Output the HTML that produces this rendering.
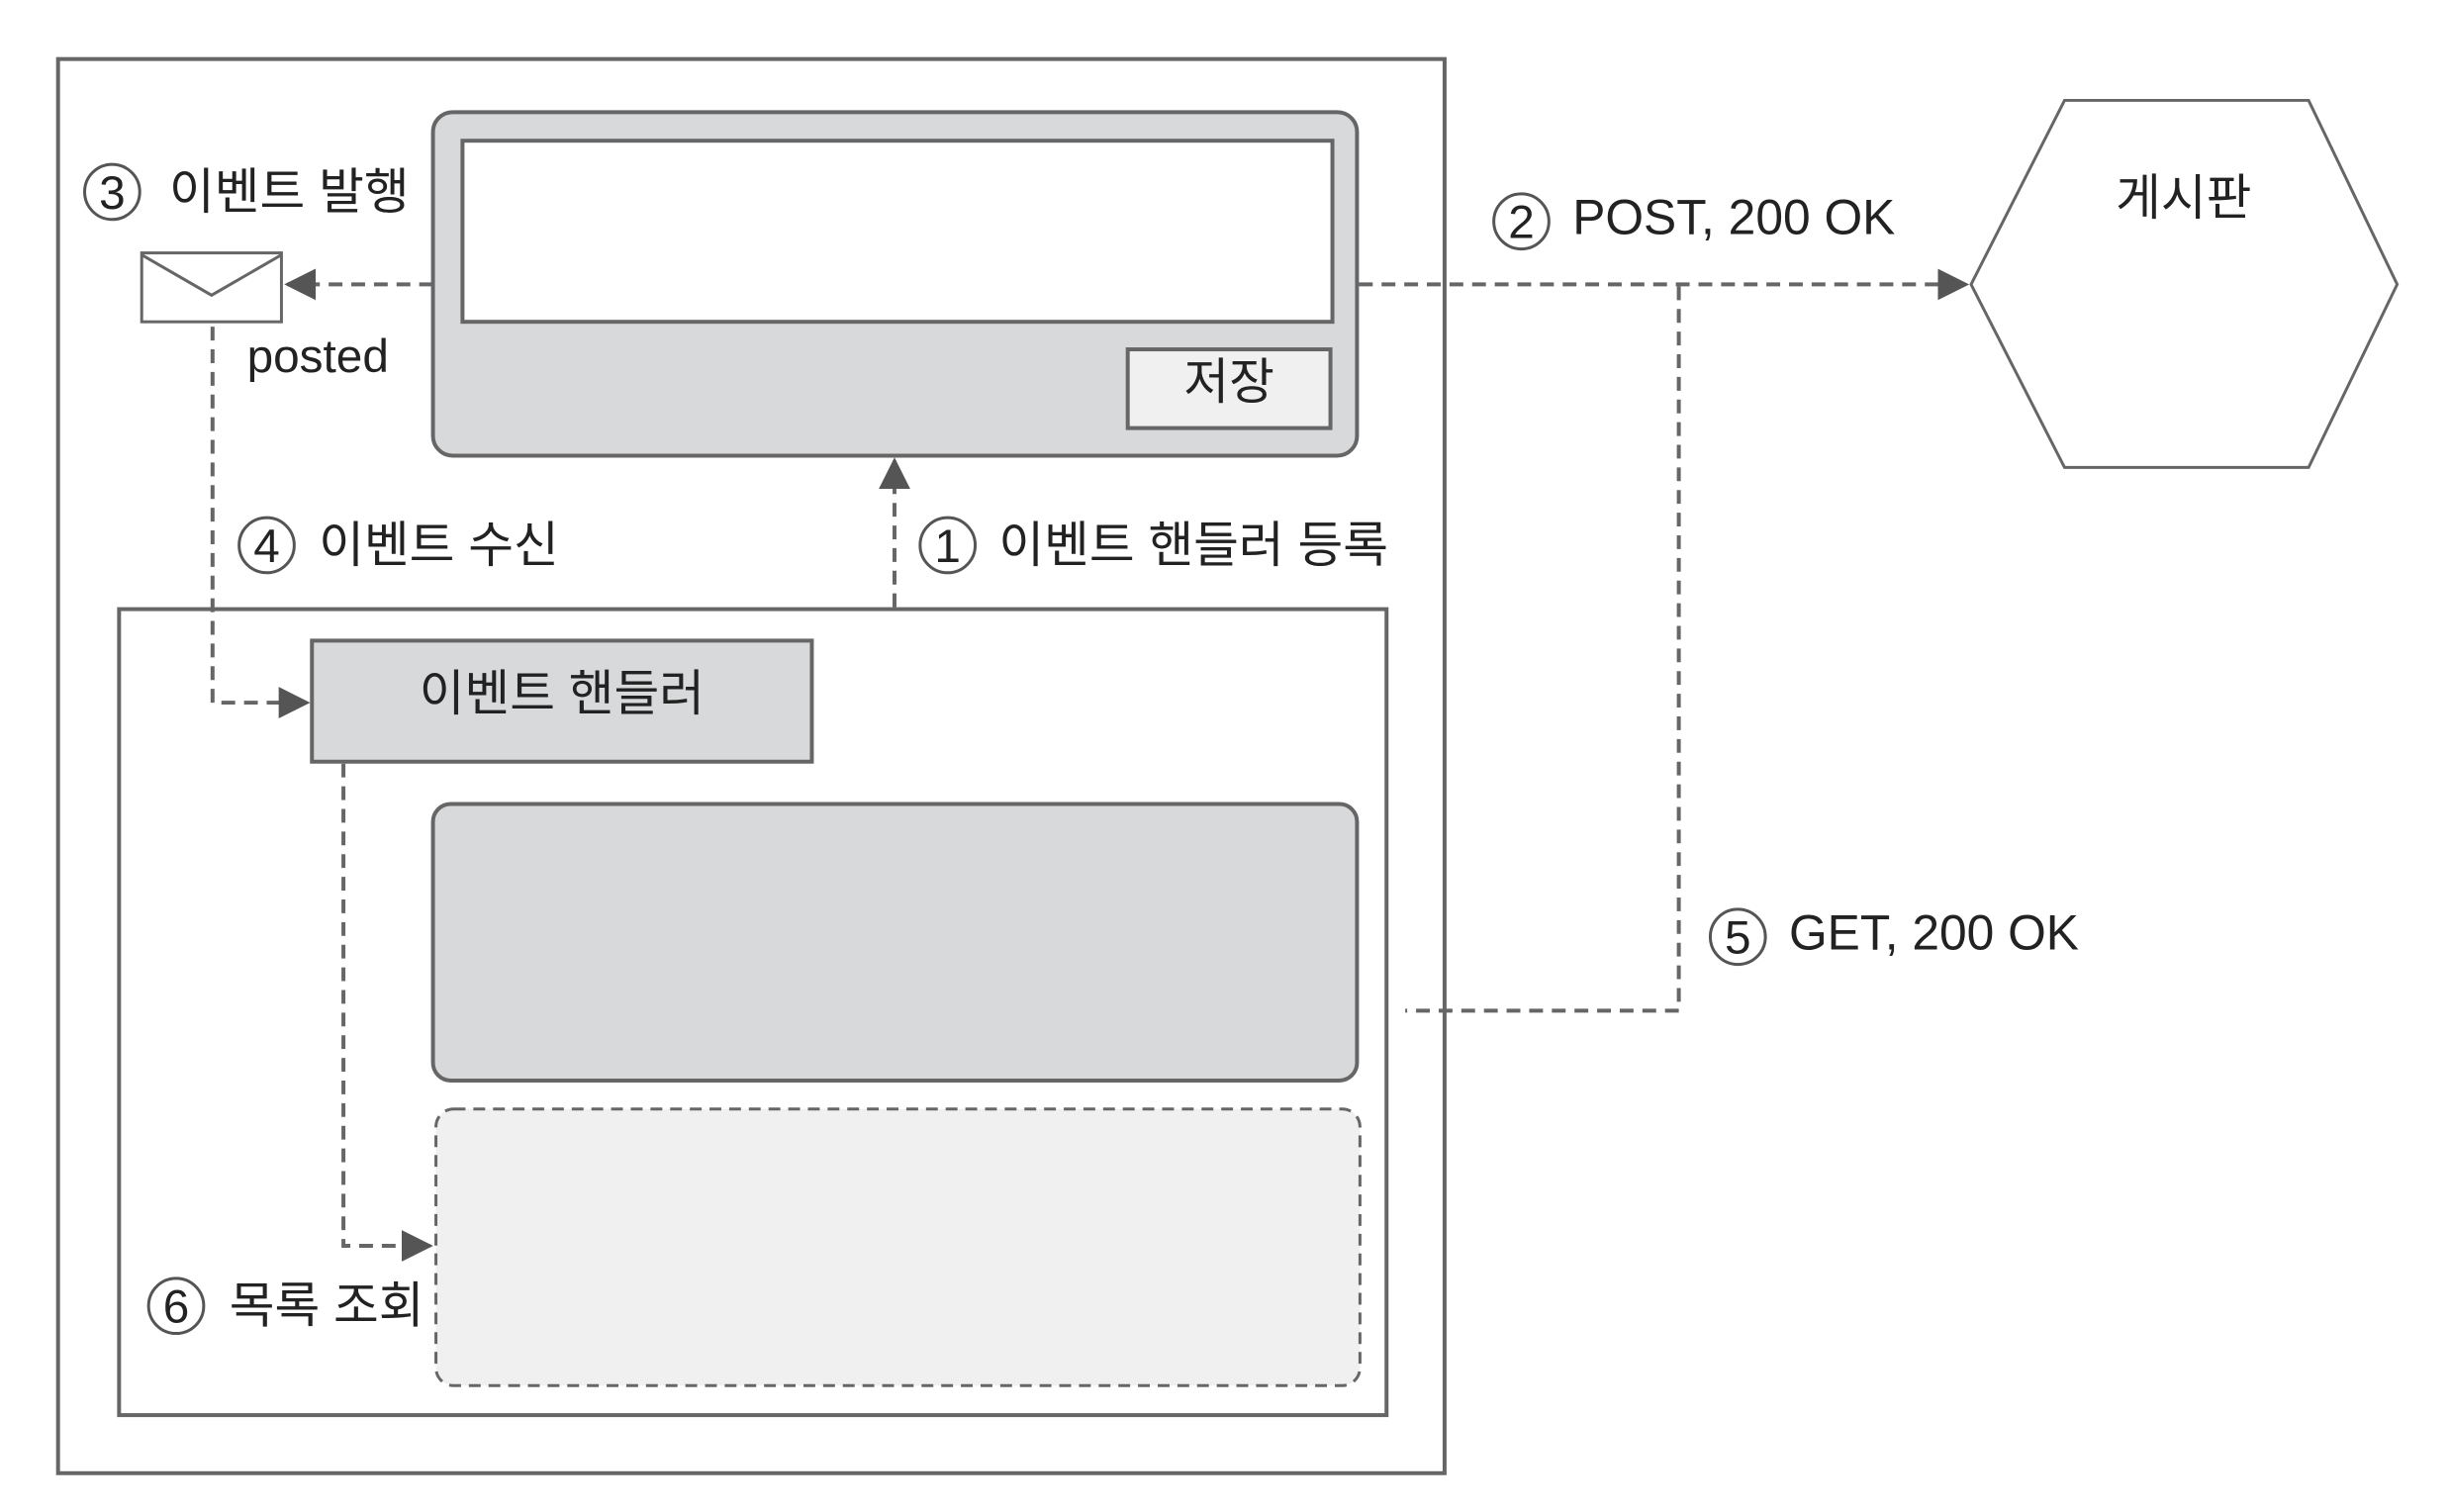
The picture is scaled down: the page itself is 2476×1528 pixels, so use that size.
<!DOCTYPE html>
<html><head><meta charset="utf-8"><style>
html,body{margin:0;padding:0;background:#fff;}
svg{display:block;}
text{font-family:"Liberation Sans","Noto Sans CJK KR",sans-serif;fill:#222;}
</style></head><body>
<svg width="2476" height="1528" viewBox="0 0 2476 1528" xmlns="http://www.w3.org/2000/svg">
<defs>
<marker id="ar" viewBox="0 0 10 10" refX="9" refY="5" markerWidth="8" markerHeight="8" orient="auto-start-reverse" markerUnits="strokeWidth">
<path d="M0,0 L10,5 L0,10 z" fill="#555"/></marker>
</defs>
<g transform="scale(0.9945)">
<g fill="none" stroke="#666" stroke-width="4">
<rect x="59" y="60" width="1409" height="1437" fill="#fff"/>
<rect x="440" y="114" width="939" height="349" rx="20" fill="#d8d9db"/>
<rect x="470" y="143" width="884" height="184" fill="#fff"/>
<rect x="1146" y="355" width="206" height="80" fill="#f0f0f0"/>
<rect x="144" y="257" width="142" height="70" fill="#fff" stroke-width="3"/>
<polyline points="144,259 215,300 286,259" stroke-width="3"/>
<rect x="121" y="619" width="1288" height="819" fill="#fff"/>
<rect x="317" y="651" width="508" height="123" fill="#d8d9db"/>
<rect x="440" y="817" width="939" height="281" rx="18" fill="#d8d9db"/>
<rect x="443" y="1127" width="939" height="281" rx="18" fill="#f0f0f0" stroke-dasharray="12 8" stroke-width="3"/>
<polygon points="2003,289 2098,102 2346,102 2436,289 2346,475 2098,475" fill="#fff" stroke-width="3"/>
</g>
<g fill="none" stroke="#666" stroke-width="4" stroke-dasharray="14 9">
<line x1="440" y1="289" x2="292" y2="289" marker-end="url(#ar)"/>
<polyline points="216,332 216,714 312,714" marker-end="url(#ar)"/>
<line x1="909" y1="617" x2="909" y2="468" marker-end="url(#ar)"/>
<polyline points="349,776 349,1266 437,1266" marker-end="url(#ar)"/>
<line x1="1381" y1="289" x2="1998" y2="289" marker-end="url(#ar)"/>
<polyline points="1706,291 1706,1027 1428,1027"/>
</g>
<g fill="#fff" stroke="#555" stroke-width="3">
<circle cx="114" cy="195" r="28"/>
<circle cx="271" cy="554" r="28"/>
<circle cx="963" cy="554" r="28"/>
<circle cx="1546" cy="225" r="28"/>
<circle cx="1766" cy="952" r="28"/>
<circle cx="179" cy="1327" r="28"/>
</g>
<g font-size="48" text-anchor="middle">
<text x="114" y="212">3</text>
<text x="271" y="571">4</text>
<text x="963" y="571">1</text>
<text x="1546" y="242">2</text>
<text x="1766" y="969">5</text>
<text x="179" y="1344">6</text>
</g>
<g font-size="50">
<text x="172" y="212">이벤트 발행</text>
<text x="251" y="378" font-size="48">posted</text>
<text x="324" y="571">이벤트 수신</text>
<text x="1015" y="571">이벤트 핸들러 등록</text>
<text x="571" y="722" text-anchor="middle">이벤트 핸들러</text>
<text x="1249" y="405" text-anchor="middle">저장</text>
<text x="233" y="1344">목록 조회</text>
<text x="1598" y="238">POST, 200 OK</text>
<text x="1818" y="965">GET, 200 OK</text>
<text x="2219" y="218" text-anchor="middle">게시판</text>
</g>
</g>
</svg>
</body></html>
